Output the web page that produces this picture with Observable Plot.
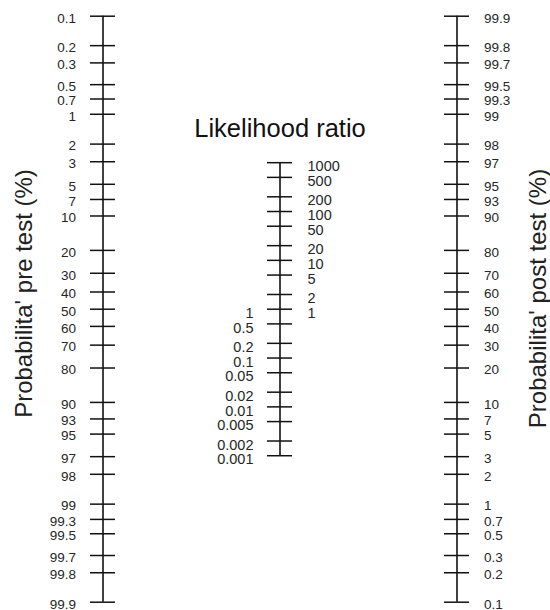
<!DOCTYPE html>
<html>
<head>
<meta charset="utf-8">
<script src="https://cdn.jsdelivr.net/npm/d3@7"></script>
<script src="https://cdn.jsdelivr.net/npm/@observablehq/plot@0.6"></script>
<style>
  html, body { margin: 0; padding: 0; background: #fff; }
  #chart { width: 550px; height: 610px; }
</style>
</head>
<body>
<div id="chart"></div>
<script>
// Tick values of the Fagan nomogram (percent for the probability axes)
const probTicks = [0.1, 0.2, 0.3, 0.5, 0.7, 1, 2, 3, 5, 7, 10, 20, 30, 40, 50, 60, 70, 80, 90, 93, 95, 97, 98, 99, 99.3, 99.5, 99.7, 99.8, 99.9];
const lrLeftTicks = [1, 0.5, 0.2, 0.1, 0.05, 0.02, 0.01, 0.005, 0.002, 0.001];
const lrRightTicks = [1000, 500, 200, 100, 50, 20, 10, 5, 2, 1];
const axisKeys = ["pre", "lr", "post"];
const titleText = "Likelihood ratio";
const preLabel = "Probabilita' pre test (%)";
const postLabel = "Probabilita' post test (%)";

// nomogram mapping to log-odds positions
const logit = p => Math.log(p / (100 - p));
const preY = p => -logit(p);
const postY = p => logit(p);
const lrY = v => Math.log(v) / 2;

const lrTicks = Array.from(new Set([...lrLeftTicks, ...lrRightTicks]));
const pMin = d3.min(probTicks), pMax = d3.max(probTicks);
const L = logit(pMax);

const axes = [
  {key: "pre", y1: preY(pMin), y2: preY(pMax)},
  {key: "lr", y1: lrY(d3.min(lrTicks)), y2: lrY(d3.max(lrTicks))},
  {key: "post", y1: postY(pMin), y2: postY(pMax)}
];

const font = "'Liberation Sans', Arial, Helvetica, sans-serif";
const tickFill = "#262626";

const chart = Plot.plot({
  width: 550,
  height: 610,
  marginTop: 0, marginBottom: 0, marginLeft: 0, marginRight: 0,
  style: {fontFamily: font, background: "#fff"},
  x: {type: "band", domain: axisKeys, range: [0, 558], paddingInner: 0.85876, paddingOuter: 0.50565, align: 0.5, axis: null},
  y: {domain: [-L, L], range: [601.7, 15.7], axis: null},
  marks: [
    Plot.ruleX(axes, {x: "key", y1: "y1", y2: "y2", stroke: "#111", strokeWidth: 1.6}),
    Plot.tickY(probTicks, {x: () => "pre", y: preY, stroke: "#111", strokeWidth: 1.5}),
    Plot.tickY(lrTicks, {x: () => "lr", y: lrY, stroke: "#111", strokeWidth: 1.5}),
    Plot.tickY(probTicks, {x: () => "post", y: postY, stroke: "#111", strokeWidth: 1.5}),
    Plot.text(probTicks, {x: () => "pre", y: preY, text: d => String(d), textAnchor: "end", dx: -27, dy: 2, fontSize: 13.5, fill: tickFill}),
    Plot.text(probTicks, {x: () => "post", y: postY, text: d => String(d), textAnchor: "start", dx: 27, dy: 2, fontSize: 13.5, fill: tickFill}),
    Plot.text(lrLeftTicks, {x: () => "lr", y: lrY, text: d => String(d), textAnchor: "end", dx: -26.5, dy: 4, fontSize: 14.5, fill: tickFill}),
    Plot.text(lrRightTicks, {x: () => "lr", y: lrY, text: d => String(d), textAnchor: "start", dx: 27.5, dy: 4, fontSize: 14.5, fill: tickFill}),
    Plot.text([titleText], {x: () => "lr", text: d => d, frameAnchor: "top", dy: 118.5, fontSize: 25.5, fill: "#111"}),
    Plot.text([preLabel], {text: d => d, frameAnchor: "left", textAnchor: "middle", dx: 24, dy: -12, rotate: -90, fontSize: 24, fill: "#222"}),
    Plot.text([postLabel], {text: d => d, frameAnchor: "right", textAnchor: "middle", dx: -12, dy: -7, rotate: -90, fontSize: 24, fill: "#222"})
  ]
});
document.getElementById("chart").appendChild(chart);
</script>
</body>
</html>
